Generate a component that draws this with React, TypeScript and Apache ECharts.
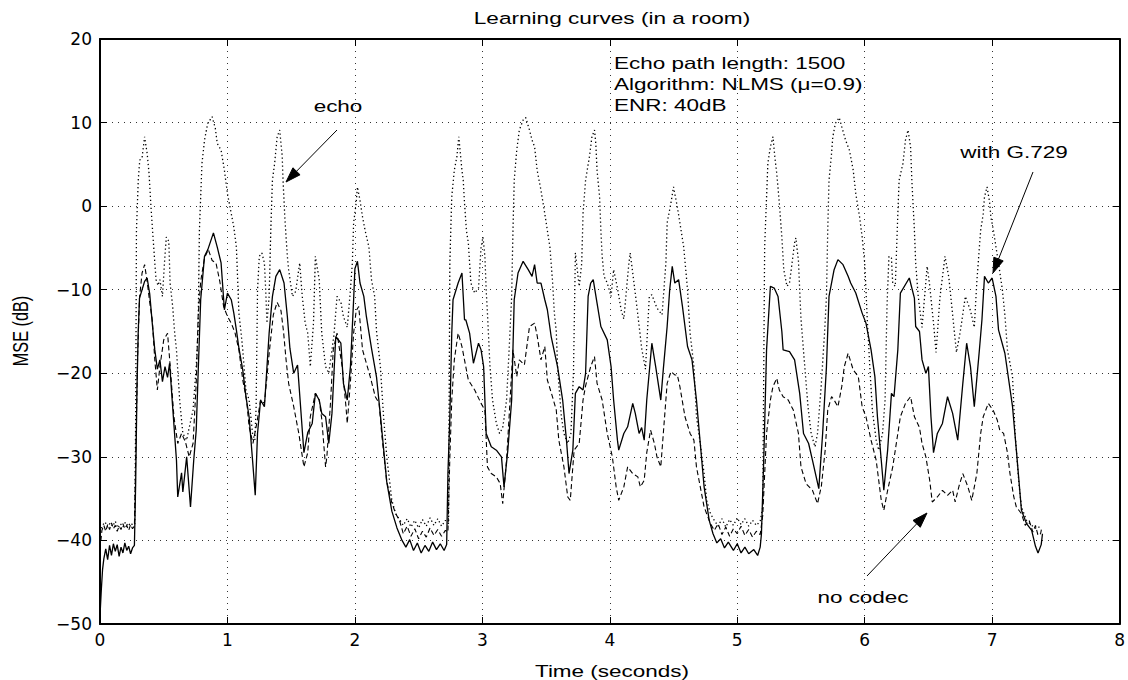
import React, { useEffect, useRef } from "react";
import * as echarts from "echarts";

const TITLE = "Learning curves (in a room)";
const X_LABEL = "Time (seconds)";
const Y_LABEL = "MSE (dB)";
const INFO_LINES = ["Echo path length: 1500", "Algorithm: NLMS (\u03bc=0.9)", "ENR: 40dB"];
const X_RANGE = [0, 8];
const Y_RANGE = [-50, 20];

// solid: with G.729
const WITH_G729: [number, number][] = [
  [0, -49], [0.01, -46], [0.02, -43.5], [0.03, -42.2], [0.045, -41], [0.06, -42.3], [0.075, -40.6], [0.09, -41.8],
  [0.105, -40.4], [0.12, -41.3], [0.135, -40.5], [0.15, -41.9], [0.165, -40.8], [0.18, -41.5], [0.195, -40.3],
  [0.21, -41.2], [0.225, -40.7], [0.24, -41.6], [0.255, -40.9], [0.27, -40.6],
  [0.28, -33], [0.29, -22], [0.3, -15], [0.31, -11], [0.33, -10], [0.35, -9], [0.37, -8.6], [0.39, -10.5], [0.41, -14],
  [0.43, -17.2], [0.45, -19.5], [0.47, -18.4], [0.49, -21], [0.51, -19.2], [0.53, -20.5], [0.546, -18.8], [0.57, -24],
  [0.6, -30.4], [0.61, -34.8], [0.64, -31.9], [0.65, -34.2], [0.68, -30], [0.71, -36], [0.735, -30.5], [0.755, -26.8],
  [0.77, -20], [0.79, -11.2], [0.82, -6.0], [0.846, -5.2], [0.89, -3.2], [0.92, -4.9], [0.95, -6.8], [0.976, -12.4],
  [1.0, -10.4], [1.03, -11.2], [1.05, -12.8], [1.07, -14.8], [1.09, -17], [1.12, -19.6], [1.145, -22.8], [1.17, -25.2],
  [1.197, -30.4], [1.218, -34.6], [1.236, -27.2], [1.26, -23.2], [1.29, -24], [1.327, -15.2], [1.353, -10.8], [1.38, -8.4],
  [1.41, -7.6], [1.444, -9.2], [1.47, -13.2], [1.49, -17], [1.52, -20], [1.55, -19], [1.57, -23.2], [1.6, -29.5],
  [1.63, -27.1], [1.665, -26], [1.69, -22.4], [1.72, -23.2], [1.74, -24.8], [1.77, -25.2], [1.795, -28.4], [1.82, -24.8],
  [1.85, -15.6], [1.89, -16.4], [1.91, -21.2], [1.94, -23.2], [1.965, -19.2], [1.99, -11.2], [2.0, -7.5], [2.02, -6.6],
  [2.04, -9.2], [2.07, -10.8], [2.09, -13.2], [2.13, -17], [2.17, -20.5], [2.2, -25], [2.25, -33], [2.29, -36.5],
  [2.33, -38.5], [2.37, -40], [2.4, -40.8], [2.43, -39.9], [2.46, -41.2], [2.49, -40.3], [2.52, -41.5], [2.55, -40.6],
  [2.58, -41.3], [2.61, -40.2], [2.64, -41.1], [2.67, -40.4], [2.7, -41.2], [2.72, -40.5],
  [2.73, -32], [2.745, -25.2], [2.76, -15.2], [2.77, -11.2], [2.81, -9.2], [2.84, -8.0], [2.86, -13.6], [2.87, -13.6],
  [2.9, -15.2], [2.93, -18.8], [2.97, -16.4], [2.99, -17.2], [3.01, -19.2], [3.03, -27.2], [3.07, -28.8], [3.11, -29.2],
  [3.15, -30], [3.17, -33.6], [3.2, -29.2], [3.23, -23.2], [3.25, -11.2], [3.28, -8.0], [3.32, -6.6], [3.36, -7.6],
  [3.39, -8.4], [3.41, -7.0], [3.43, -9.2], [3.46, -9.2], [3.49, -11.2], [3.51, -12.4], [3.54, -15.6], [3.59, -19.2],
  [3.63, -23.2], [3.66, -28], [3.68, -32], [3.71, -29.2], [3.73, -22.4], [3.76, -21.6], [3.79, -22], [3.81, -20],
  [3.83, -10.8], [3.85, -9.2], [3.87, -8.8], [3.9, -11.6], [3.93, -14.4], [3.98, -16], [4.01, -19.2], [4.03, -23.2],
  [4.06, -28], [4.07, -29.2], [4.11, -27.2], [4.14, -26.4], [4.18, -23.6], [4.2, -24.8], [4.23, -27.2], [4.25, -26.5],
  [4.27, -28], [4.29, -23.2], [4.33, -16.4], [4.36, -19.2], [4.4, -23.2], [4.42, -19.5], [4.45, -14.4], [4.47, -10],
  [4.49, -7.2], [4.51, -9.2], [4.54, -8.8], [4.57, -12], [4.61, -16.8], [4.645, -18.4], [4.68, -23.2], [4.71, -28.4],
  [4.74, -33.6], [4.78, -37.6], [4.81, -39.2], [4.84, -40.3], [4.87, -39.8], [4.9, -40.9], [4.93, -40.2], [4.97, -41.2],
  [5.0, -40.4], [5.03, -41.5], [5.06, -40.8], [5.09, -41.6], [5.13, -41.1], [5.16, -41.8], [5.18, -40.8], [5.19, -39.2],
  [5.21, -29.2], [5.23, -17.2], [5.26, -9.6], [5.29, -9.8], [5.32, -10.8], [5.35, -15], [5.36, -17.2], [5.41, -17.4],
  [5.45, -18.4], [5.49, -22.4], [5.52, -27.2], [5.56, -28.4], [5.59, -30.4], [5.64, -33.8], [5.67, -27.2], [5.7, -19.2],
  [5.72, -10.8], [5.76, -7.6], [5.79, -6.4], [5.83, -7.0], [5.87, -8.4], [5.89, -9.2], [5.93, -10.4], [5.98, -12.8],
  [6.01, -14], [6.05, -17.2], [6.08, -20.4], [6.1, -25.2], [6.13, -30.4], [6.15, -34], [6.18, -29.2], [6.21, -22.4],
  [6.23, -22.8], [6.26, -17.2], [6.28, -10.4], [6.35, -8.6], [6.39, -11], [6.4, -14.4], [6.43, -15], [6.45, -18.4],
  [6.48, -20], [6.5, -19.2], [6.52, -25.2], [6.54, -29.5], [6.57, -27.2], [6.61, -26], [6.65, -22.8], [6.69, -24.8],
  [6.73, -28], [6.77, -21.2], [6.8, -16.4], [6.83, -19.2], [6.86, -24], [6.9, -17.2], [6.92, -13.6], [6.94, -8.4],
  [6.97, -9.2], [7.0, -8.6], [7.03, -10.8], [7.05, -14.8], [7.1, -17.6], [7.16, -24], [7.19, -29.2], [7.23, -36.4],
  [7.27, -38], [7.31, -38.8], [7.34, -40.7], [7.36, -41.5], [7.385, -40.5], [7.395, -39.2],
];

// dashed: no codec
const NO_CODEC: [number, number][] = [
  [0, -41], [0.015, -38.8], [0.03, -38.2], [0.045, -38.9], [0.06, -38.1], [0.075, -38.7], [0.09, -37.9], [0.105, -38.6],
  [0.12, -38.2], [0.135, -38.9], [0.15, -38.3], [0.165, -38.7], [0.18, -38], [0.195, -38.6], [0.21, -38.2], [0.225, -38.8],
  [0.24, -38.1], [0.255, -38.6], [0.27, -38.3],
  [0.28, -30], [0.295, -18], [0.31, -11], [0.33, -8], [0.35, -7.0], [0.37, -9], [0.39, -11.5], [0.41, -13.6], [0.43, -18.4],
  [0.45, -22], [0.47, -19.2], [0.5, -16], [0.53, -15.2], [0.55, -19], [0.58, -25.2], [0.61, -28.4], [0.64, -27.2],
  [0.67, -28.2], [0.7, -30], [0.73, -28.4], [0.755, -21.2], [0.77, -13.2], [0.79, -9], [0.82, -6.2], [0.85, -5.2],
  [0.88, -6.5], [0.91, -6.8], [0.94, -9], [0.97, -12], [1.0, -13.2], [1.03, -14], [1.06, -15.2], [1.09, -17.2],
  [1.12, -20.8], [1.15, -23.2], [1.17, -26.4], [1.2, -28.4], [1.23, -26], [1.26, -23.2], [1.29, -23.6], [1.33, -17.2],
  [1.36, -13], [1.39, -11.5], [1.42, -12.5], [1.44, -15], [1.46, -18.4], [1.48, -21.2], [1.52, -24], [1.56, -27.2],
  [1.6, -31.2], [1.63, -29.5], [1.65, -25.2], [1.69, -22.4], [1.72, -23.2], [1.74, -25.5], [1.77, -31.2], [1.78, -30],
  [1.81, -23.2], [1.83, -17.2], [1.86, -15.2], [1.9, -19.2], [1.93, -24], [1.94, -26], [1.965, -21], [1.99, -15.2],
  [2.01, -12.5], [2.03, -12], [2.06, -17.2], [2.12, -20.4], [2.16, -22.8], [2.19, -23.6], [2.21, -27.2], [2.25, -33],
  [2.29, -35.5], [2.32, -36.8], [2.35, -37.6], [2.38, -39.2], [2.41, -38.3], [2.44, -39.5], [2.47, -38.6], [2.5, -39.8],
  [2.53, -38.9], [2.56, -39.6], [2.59, -38.5], [2.62, -39.4], [2.65, -38.7], [2.68, -39.5], [2.71, -38.8], [2.73, -39],
  [2.745, -30], [2.76, -23.2], [2.78, -18.4], [2.81, -15.2], [2.84, -16.8], [2.86, -18.4], [2.89, -20.8], [2.94, -22],
  [2.99, -23.6], [3.02, -24.4], [3.04, -31.2], [3.07, -32], [3.11, -32.4], [3.14, -33.2], [3.16, -35.6], [3.19, -30.4],
  [3.21, -25.2], [3.24, -17.2], [3.27, -20.4], [3.29, -18.4], [3.33, -19], [3.37, -14.4], [3.41, -14], [3.43, -15.5],
  [3.46, -18.4], [3.49, -16.8], [3.51, -20.8], [3.55, -22.8], [3.58, -24.4], [3.6, -28], [3.64, -31.2], [3.67, -34.8],
  [3.69, -35.2], [3.72, -29.2], [3.76, -28.4], [3.79, -23.2], [3.81, -21.5], [3.85, -19.2], [3.88, -18], [3.9, -21.2],
  [3.94, -23.2], [3.98, -27.2], [4.02, -30], [4.05, -33.6], [4.07, -35.2], [4.11, -33.6], [4.14, -31.2], [4.18, -32],
  [4.22, -32.4], [4.24, -33.6], [4.27, -32.8], [4.29, -29.5], [4.32, -26.8], [4.35, -28.4], [4.37, -30], [4.4, -31.2],
  [4.42, -27.2], [4.45, -21.2], [4.48, -19.8], [4.51, -20.2], [4.53, -20.2], [4.55, -21.6], [4.59, -25.2], [4.63, -27.2],
  [4.66, -28], [4.68, -31.2], [4.71, -33.6], [4.74, -36], [4.76, -36.8], [4.79, -38], [4.82, -38.8], [4.85, -38],
  [4.88, -39.3], [4.91, -38.4], [4.94, -39.5], [4.97, -38.6], [5.0, -39.2], [5.03, -38.3], [5.06, -39.4], [5.09, -38.7],
  [5.12, -39.6], [5.15, -38.9], [5.18, -39.3], [5.2, -37],
  [5.23, -27.2], [5.26, -23.2], [5.28, -21.6], [5.31, -20.6], [5.33, -22], [5.36, -22.8], [5.4, -23.2], [5.44, -24.4],
  [5.48, -27.2], [5.5, -31.2], [5.54, -33.2], [5.59, -34], [5.63, -35.6], [5.66, -33.5], [5.69, -29.2], [5.71, -24.4],
  [5.74, -22.8], [5.76, -23.2], [5.79, -24], [5.82, -21.6], [5.84, -19.2], [5.87, -17.6], [5.91, -19.6], [5.95, -20.4],
  [5.98, -24], [6.01, -25.2], [6.05, -28], [6.09, -30.4], [6.13, -35.2], [6.15, -36.4], [6.18, -34], [6.22, -31.2],
  [6.26, -27.2], [6.28, -25.2], [6.32, -23.6], [6.36, -22.8], [6.39, -25.2], [6.43, -26.5], [6.45, -28.4], [6.48, -30],
  [6.51, -32.8], [6.53, -35.4], [6.57, -34.8], [6.61, -34], [6.65, -34.6], [6.69, -34], [6.71, -35.4], [6.74, -33.5],
  [6.77, -32], [6.79, -32.8], [6.81, -33.6], [6.84, -35.2], [6.88, -32], [6.91, -27.2], [6.93, -25.2], [6.97, -23.6],
  [7.01, -24.5], [7.04, -25.6], [7.06, -26.8], [7.09, -27.2], [7.12, -29.5], [7.14, -32], [7.17, -34.8], [7.19, -36],
  [7.23, -36.8], [7.26, -38.2], [7.29, -37.6], [7.32, -39], [7.34, -38.2], [7.36, -39.4], [7.38, -39.2], [7.39, -38.4],
];

// dotted: echo
const ECHO: [number, number][] = [
  [0, -39], [0.02, -38.2], [0.04, -37.8], [0.06, -38.4], [0.08, -37.9], [0.1, -38.3], [0.12, -37.7], [0.14, -38.5],
  [0.16, -38], [0.18, -38.4], [0.2, -37.8], [0.22, -38.3], [0.24, -37.9], [0.26, -38.2], [0.273, -38],
  [0.28, -25], [0.286, -2.9], [0.3, 3.1], [0.312, 5.5], [0.33, 5.8], [0.35, 8.3], [0.37, 6.3], [0.385, 3.9], [0.4, -0.1],
  [0.416, -3.7], [0.43, -6.8], [0.44, -8.8], [0.455, -9.5], [0.47, -8.8], [0.49, -10.8], [0.505, -7], [0.52, -3.7],
  [0.54, -4.2], [0.55, -9.2], [0.57, -12], [0.585, -15], [0.6, -17.2], [0.625, -23.2], [0.65, -27.2], [0.68, -28],
  [0.7, -26.5], [0.73, -24.4], [0.755, -19.2], [0.77, -14.8], [0.78, -2.9], [0.8, 5.1], [0.82, 7.9], [0.845, 9.9],
  [0.88, 10.7], [0.905, 9.3], [0.92, 7.5], [0.95, 6.7], [0.976, 4.3], [1.0, 1.5], [1.03, -0.9], [1.05, -2.5], [1.07, -4.9],
  [1.08, -8.8], [1.09, -12.8], [1.106, -15], [1.12, -17.2], [1.145, -22], [1.17, -23.2], [1.197, -27.2], [1.215, -28],
  [1.225, -24], [1.236, -10], [1.25, -6.0], [1.27, -5.6], [1.29, -6.8], [1.3, -10], [1.31, -14], [1.327, -10.8],
  [1.34, -2.9], [1.353, 3.1], [1.37, 5.1], [1.39, 8.3], [1.41, 9.1], [1.43, 5.9], [1.436, 3.1], [1.45, -1.3], [1.47, -6.0],
  [1.48, -7.6], [1.51, -10.8], [1.535, -10.2], [1.567, -6.8], [1.587, -10.8], [1.61, -14], [1.63, -15.2], [1.65, -19.2],
  [1.675, -14], [1.69, -6.0], [1.72, -8.8], [1.74, -15.2], [1.77, -19.2], [1.795, -20], [1.835, -15.5], [1.86, -10.8],
  [1.89, -11.5], [1.91, -13.2], [1.94, -14.5], [1.965, -10], [1.98, -6.8], [1.99, -2.0], [2.01, 0.4], [2.02, 2.3],
  [2.04, 0.7], [2.06, -1.3], [2.08, -2.9], [2.11, -4.9], [2.13, -8.8], [2.155, -10.8], [2.17, -15], [2.2, -19.2],
  [2.225, -25.2], [2.25, -30], [2.29, -35.2], [2.32, -36.8], [2.35, -37.5], [2.38, -38.2], [2.41, -37.4], [2.44, -38.4],
  [2.47, -37.6], [2.5, -38.5], [2.53, -37.5], [2.56, -38.3], [2.59, -37.3], [2.62, -38.2], [2.65, -37.4], [2.68, -38.3],
  [2.71, -37.6], [2.735, -38],
  [2.745, -6.8], [2.76, 1.1], [2.78, 4.3], [2.8, 5.9], [2.815, 8.3], [2.84, 4.3], [2.85, 3.1], [2.86, 0.4], [2.875, -2.9],
  [2.89, -4.4], [2.9, -6.8], [2.91, -9.2], [2.94, -10.4], [2.97, -9.8], [2.99, -4.9], [3.005, -3.7], [3.02, -6.0],
  [3.03, -10], [3.04, -12.8], [3.06, -19.2], [3.08, -23.2], [3.11, -26], [3.135, -27.2], [3.16, -26.5], [3.19, -23.2],
  [3.21, -17.2], [3.23, -10.8], [3.24, -2.9], [3.25, 3.1], [3.27, 6.7], [3.29, 9.1], [3.32, 10.3], [3.34, 10.6],
  [3.37, 9.1], [3.39, 7.9], [3.41, 7.1], [3.43, 4.3], [3.46, 1.9], [3.49, -0.9], [3.51, -2.9], [3.53, -4.9], [3.55, -8.8],
  [3.565, -12.8], [3.58, -15], [3.59, -19.2], [3.62, -25.2], [3.64, -27.2], [3.67, -28.4], [3.695, -27.2], [3.715, -20],
  [3.73, -5.6], [3.76, -9.6], [3.78, -6.8], [3.79, -0.9], [3.81, 3.1], [3.84, 5.9], [3.86, 8.3], [3.88, 9.1], [3.89, 7.5],
  [3.9, 4.3], [3.92, 1.1], [3.93, -2.9], [3.94, -6.0], [3.955, -8.4], [3.98, -9.2], [4.01, -10.8], [4.03, -7.6],
  [4.06, -9.8], [4.09, -12.5], [4.11, -13.5], [4.15, -6.8], [4.16, -5.6], [4.19, -9.2], [4.22, -13], [4.25, -17],
  [4.28, -19.5], [4.31, -10.8], [4.33, -10.6], [4.37, -12.2], [4.41, -13], [4.44, -6.8], [4.45, -2.0], [4.48, 0.4],
  [4.5, 2.3], [4.53, -0.1], [4.55, -2.0], [4.58, -4.9], [4.61, -10], [4.63, -15.2], [4.66, -19.2], [4.68, -25.2],
  [4.71, -28.4], [4.74, -32], [4.76, -35.2], [4.79, -36.8], [4.82, -37.6], [4.85, -38.3], [4.88, -37.4], [4.91, -38.4],
  [4.94, -37.5], [4.97, -38.2], [5.0, -37.3], [5.03, -38.1], [5.06, -37.4], [5.09, -38.3], [5.12, -37.6], [5.15, -38.2],
  [5.18, -37.7], [5.2, -36],
  [5.215, -4.9], [5.23, 1.1], [5.24, 5.1], [5.26, 7.1], [5.28, 8.3], [5.295, 5.9], [5.31, 3.9], [5.33, 0.4], [5.35, -3.7],
  [5.365, -7.6], [5.39, -9.6], [5.41, -9.2], [5.43, -6.8], [5.45, -4.4], [5.46, -3.8], [5.48, -6.5], [5.49, -10],
  [5.5, -13.5], [5.53, -19.2], [5.555, -24], [5.58, -27.2], [5.61, -28.8], [5.63, -27.2], [5.66, -21.2], [5.685, -15.2],
  [5.7, -10.8], [5.71, -2.9], [5.72, 3.1], [5.74, 6.3], [5.75, 8.3], [5.77, 9.9], [5.8, 10.6], [5.82, 9.5], [5.85, 7.9],
  [5.88, 6.7], [5.91, 4.3], [5.93, 1.5], [5.96, -1.3], [5.98, -3.7], [6.0, -6.8], [6.01, -10], [6.02, -13.5], [6.04, -19.2],
  [6.06, -24.4], [6.09, -28], [6.11, -29.2], [6.14, -27.2], [6.16, -23.2], [6.175, -12], [6.19, -6.0], [6.21, -6.2],
  [6.22, -9.2], [6.24, -9.6], [6.26, -0.9], [6.27, 3.1], [6.3, 5.1], [6.32, 7.9], [6.34, 9.1], [6.36, 7.1], [6.37, 3.1],
  [6.39, -2.9], [6.4, -6.8], [6.42, -10.8], [6.45, -14.5], [6.49, -7.2], [6.51, -9.5], [6.54, -14], [6.56, -17.5],
  [6.59, -11], [6.63, -6.0], [6.66, -8.5], [6.69, -13], [6.72, -17.5], [6.75, -15], [6.79, -10.8], [6.83, -12.5],
  [6.86, -14.5], [6.88, -9], [6.9, -4.9], [6.91, -2.9], [6.93, -0.9], [6.94, 1.1], [6.96, 2.3], [6.98, 0.5], [6.99, -1.3],
  [7.01, -2.9], [7.03, -4.9], [7.05, -6.8], [7.08, -10], [7.1, -13], [7.12, -17.2], [7.16, -20.4], [7.18, -27.2],
  [7.21, -33.2], [7.23, -36], [7.27, -37.6], [7.31, -38.2], [7.35, -38.6], [7.385, -38.2],
];

// annotations: [label, label x, label y, arrow start x, y, arrow tip x, y]
const ANNOTATIONS: [string, number, number, number, number, number, number][] = [
  ["echo", 338, 106, 337, 130, 286, 182],
  ["with G.729", 1014, 152, 1033, 172, 993, 273],
  ["no codec", 863, 597, 867, 576, 927, 513],
];

const FONT = "'Liberation Sans', Arial, Helvetica, sans-serif";
const SX = 1.38;

function arrowElements(x1: number, y1: number, x2: number, y2: number) {
  const dx = x2 - x1;
  const dy = y2 - y1;
  const len = Math.sqrt(dx * dx + dy * dy);
  const ux = dx / len;
  const uy = dy / len;
  const L = 15;
  const W = 5;
  const bx = x2 - ux * L;
  const by = y2 - uy * L;
  return [
    {
      type: "line",
      shape: { x1, y1, x2: bx, y2: by },
      style: { stroke: "#000", lineWidth: 1 },
      silent: true,
    },
    {
      type: "polygon",
      shape: {
        points: [
          [x2, y2],
          [bx - uy * W, by + ux * W],
          [bx + uy * W, by - ux * W],
        ],
      },
      style: { fill: "#000", stroke: "#000", lineWidth: 1 },
      silent: true,
    },
  ];
}

function textEl(text: string, x: number, y: number, align: string, size: number, scaleX: number, extra: any = {}) {
  return {
    type: "text",
    x,
    y,
    scaleX,
    silent: true,
    style: {
      text,
      fill: "#000",
      fontSize: size,
      fontFamily: FONT,
      textAlign: align,
      textVerticalAlign: "middle",
      align,
      verticalAlign: "middle",
    },
    ...extra,
  };
}

const fmtY = (v: number) => (v < 0 ? "\u2212" + Math.abs(v) : String(v));

export default function App() {
  const ref = useRef<HTMLDivElement>(null);

  useEffect(() => {
    if (!ref.current) return;
    const chart = echarts.init(ref.current, undefined, { renderer: "svg" });

    const gridLine = { show: true, lineStyle: { type: [1, 5], color: "#333", width: 1 } };
    const axisLine = { show: true, onZero: false, lineStyle: { color: "#000", width: 2 } };
    const tick = { show: true, inside: true, length: 7, lineStyle: { color: "#000", width: 1 } };
    const labelStyle = { color: "#000", fontSize: 17, fontFamily: "'DejaVu Sans', sans-serif" };

    const graphics: any[] = [];
    graphics.push(textEl(TITLE, 612, 18, "center", 17, 1.33));
    INFO_LINES.forEach((line, i) => {
      graphics.push(textEl(line, 614, 63 + i * 21, "left", 16.3, SX));
    });
    graphics.push(textEl(X_LABEL, 612, 671, "center", 16.3, SX));
    graphics.push({
      type: "text",
      x: 20,
      y: 331,
      rotation: Math.PI / 2,
      scaleY: SX,
      silent: true,
      style: {
        text: Y_LABEL,
        fill: "#000",
        fontSize: 16.3,
        fontFamily: FONT,
        textAlign: "center",
        textVerticalAlign: "middle",
        align: "center",
        verticalAlign: "middle",
      },
    });
    ANNOTATIONS.forEach(([label, lx, ly, ax, ay, tx, ty]) => {
      graphics.push(textEl(label, lx, ly, "center", 16.3, SX));
      graphics.push(...arrowElements(ax, ay, tx, ty));
    });

    const lineSeries = (name: string, data: [number, number][], type: any, width: number) => ({
      name,
      type: "line",
      data,
      showSymbol: false,
      symbol: "none",
      silent: true,
      clip: true,
      lineStyle: { color: "#000", width, type },
      z: 3,
    });

    chart.setOption({
      animation: false,
      backgroundColor: "#fff",
      grid: { left: 100, right: 3, top: 39, bottom: 56, containLabel: false },
      xAxis: [
        {
          type: "value",
          min: X_RANGE[0],
          max: X_RANGE[1],
          interval: 1,
          position: "bottom",
          axisLine,
          axisTick: tick,
          axisLabel: { ...labelStyle, margin: 7 },
          splitLine: gridLine,
        },
        {
          type: "value",
          min: X_RANGE[0],
          max: X_RANGE[1],
          interval: 1,
          position: "top",
          axisLine,
          axisTick: tick,
          axisLabel: { show: false },
          splitLine: { show: false },
        },
      ],
      yAxis: [
        {
          type: "value",
          min: Y_RANGE[0],
          max: Y_RANGE[1],
          interval: 10,
          position: "left",
          axisLine,
          axisTick: tick,
          axisLabel: { ...labelStyle, margin: 8, formatter: fmtY },
          splitLine: gridLine,
        },
        {
          type: "value",
          min: Y_RANGE[0],
          max: Y_RANGE[1],
          interval: 10,
          position: "right",
          axisLine,
          axisTick: tick,
          axisLabel: { show: false },
          splitLine: { show: false },
        },
      ],
      series: [
        lineSeries("echo", ECHO, [1.3, 2.7], 1.3),
        lineSeries("no codec", NO_CODEC, [5, 3], 1.1),
        lineSeries("with G.729", WITH_G729, "solid", 1.3),
      ],
      graphic: { elements: graphics },
    });

    return () => {
      chart.dispose();
    };
  }, []);

  return (
    <div
      ref={ref}
      style={{ position: "fixed", left: 0, top: 0, width: 1128, height: 680, background: "#fff" }}
    />
  );
}
